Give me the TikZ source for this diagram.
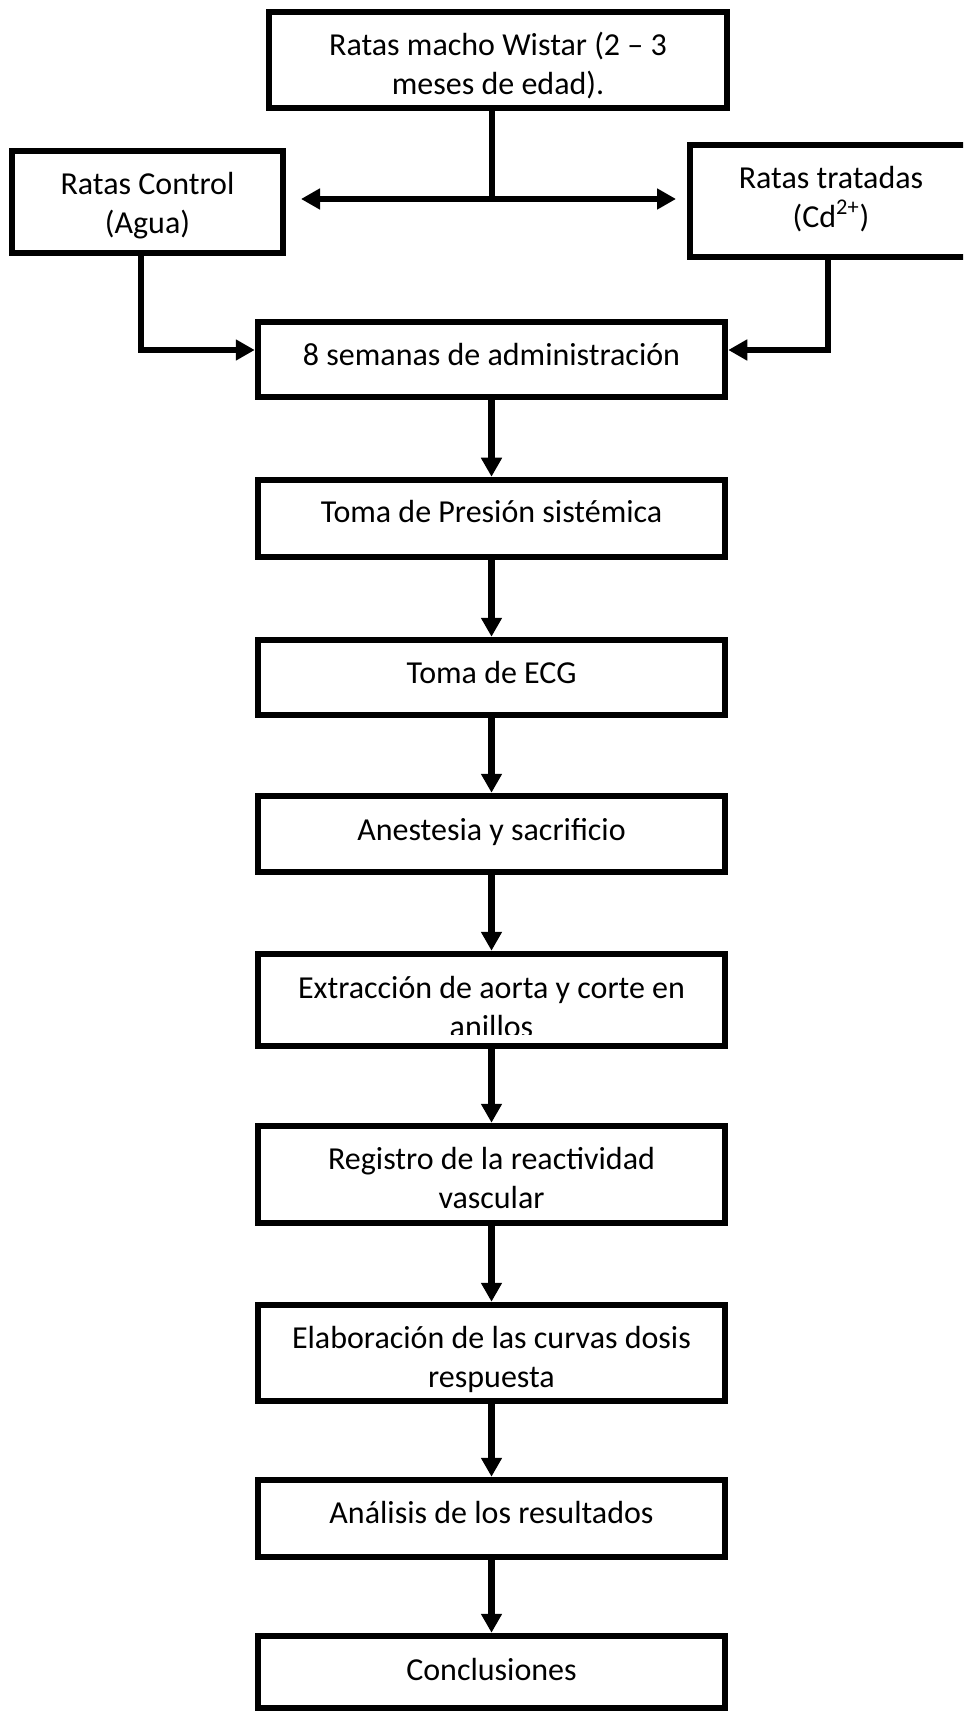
\documentclass[tikz,border=0pt]{standalone}
\usepackage{fontspec}
\setmainfont{Carlito}
\usetikzlibrary{arrows.meta}
\begin{document}
\begin{tikzpicture}[x=0.5pt,y=-0.5pt,
  txt/.style={font=\fontsize{16pt}{19.5pt}\selectfont, align=center, inner sep=0pt},
  box/.style={draw, line width=3.25pt, rectangle, inner sep=0pt},
  colbox/.style={box, minimum width=233.5pt},
  link/.style={line width=3.25pt},
  flow/.style={link, -{Triangle[length=9.5pt,width=10pt]}},
]
\useasboundingbox (0,0) rectangle (963,1711);
\clip (0,0) rectangle (963,1711);
\fill[white] (0,0) rectangle (963,1711);

\node[box, minimum width=229pt, minimum height=48pt,
  label={[txt, name=topt, yshift=-2.7pt]center:{Ratas macho Wistar (2 – 3\\meses de edad).}}] (top) at (498,60) {};
\node[box, minimum width=135.5pt, minimum height=51pt,
  label={[txt, name=ctlt, yshift=-1.6pt]center:{Ratas Control\\(Agua)}}] (ctl) at (147.5,202) {};
\node[box, minimum width=141pt, minimum height=56pt,
  label={[txt, name=trtt, yshift=1.1pt]center:{Ratas tratadas\\(Cd\textsuperscript{2+})}}] (trt) at (831,201) {};

\node[colbox, minimum height=37.5pt,
  label={[txt, name=semt, yshift=2.7pt]center:{8 semanas de administración}}] (sem) at (491.5,359.5) {};
\node[colbox, minimum height=38.5pt,
  label={[txt, name=prest, yshift=3.6pt]center:{Toma de Presión sistémica}}] (pres) at (491.5,518.5) {};
\node[colbox, minimum height=37.5pt,
  label={[txt, name=ecgt, yshift=2.5pt]center:{Toma de ECG}}] (ecg) at (491.5,677.5) {};
\node[colbox, minimum height=38pt,
  label={[txt, name=anest, yshift=1.1pt]center:{Anestesia y sacrificio}}] (anes) at (491.5,834) {};
\node[colbox, minimum height=46pt] (extr) at (491.5,1000) {};
\begin{scope}
  \clip (258,954) rectangle (725,1034);
  \node[txt] (extrt) at (491.5,1006.5) {Extracción de aorta y corte en\\anillos};
\end{scope}
\node[colbox, minimum height=48.5pt,
  label={[txt, name=regt, yshift=-1.9pt]center:{Registro de la reactividad\\vascular}}] (reg) at (491.5,1174.5) {};
\node[colbox, minimum height=48pt,
  label={[txt, name=elabt, yshift=-3.1pt]center:{Elaboración de las curvas dosis\\respuesta}}] (elab) at (491.5,1353) {};
\node[colbox, minimum height=38.5pt,
  label={[txt, name=analt, yshift=3.1pt]center:{Análisis de los resultados}}] (anal) at (491.5,1518.5) {};
\node[colbox, minimum height=36pt,
  label={[txt, name=conct, yshift=1.1pt]center:{Conclusiones}}] (conc) at (491.5,1672) {};

\coordinate (j) at (492,199);
\coordinate (la) at (301,199);
\coordinate (ra) at (676,199);
\draw[link] (top.south -| j) -- (j);
\draw[link, {Triangle[length=9.5pt,width=10pt]}-{Triangle[length=9.5pt,width=10pt]}] (la) -- (ra);

\coordinate (lx) at (141,350);
\coordinate (rx) at (828,350);
\draw[flow] (ctl.south -| lx) -- (lx) -- (lx -| sem.west);
\draw[flow] (trt.south -| rx) -- (rx) -- (rx -| sem.east);

\draw[flow] (sem) -- (pres);
\draw[flow] (pres) -- (ecg);
\draw[flow] (ecg) -- (anes);
\draw[flow] (anes) -- (extr);
\draw[flow] (extr) -- (reg);
\draw[flow] (reg) -- (elab);
\draw[flow] (elab) -- (anal);
\draw[flow] (anal) -- (conc);
\end{tikzpicture}
\end{document}
